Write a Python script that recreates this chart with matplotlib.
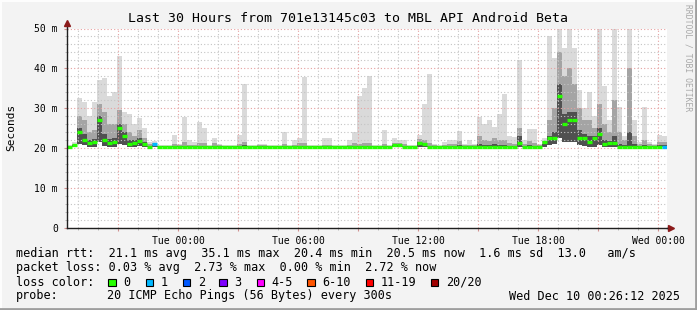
import numpy as np
import pandas as pd
import matplotlib
matplotlib.use("Agg")
import matplotlib.pyplot as plt
import matplotlib.dates as mdates
from matplotlib.patches import Rectangle
from matplotlib.lines import Line2D
from matplotlib.ticker import FuncFormatter

plt.rcParams['font.family'] = ['DejaVu Sans Mono']

W, H = 697, 310

title = "Last 30 Hours from 701e13145c03 to MBL API Android Beta"
start = pd.Timestamp("2025-12-08 18:26:12")   # 30 h before Wed 00:26:12
step = "15min"

# median rtt per 15 min bin (ms)
med = [
    20.4, 20.8, 24.0, 22.0, 21.3, 21.6, 27.0, 22.0, 21.2, 21.6, 25.0, 23.0, 21.0, 21.2, 21.8, 21.0, 20.4, 21.0, 20.4, 20.4,
    20.4, 20.4, 20.4, 20.4, 20.4, 20.4, 20.4, 20.4, 20.4, 20.4, 20.4, 20.4, 20.4, 20.4, 20.4, 20.4, 20.4, 20.4, 20.4, 20.4,
    20.4, 20.4, 20.4, 20.4, 20.4, 20.4, 20.4, 20.4, 20.4, 20.4, 20.4, 20.4, 20.4, 20.4, 20.4, 20.4, 20.4, 20.4, 20.4, 20.4,
    20.4, 20.4, 20.4, 20.4, 20.4, 20.7, 20.7, 20.4, 20.4, 20.4, 21.2, 21.0, 20.4, 20.4, 20.4, 20.4, 20.4, 20.4, 20.4, 20.4,
    20.4, 20.4, 20.4, 20.4, 20.4, 20.4, 20.4, 20.4, 20.4, 20.4, 21.3, 20.4, 20.4, 20.4, 20.4, 21.5, 22.5, 22.5, 33.0, 26.0,
    27.0, 27.0, 22.5, 22.5, 21.5, 22.5, 23.5, 21.0, 21.2, 21.3, 20.4, 20.4, 20.4, 20.4, 20.4, 20.4, 20.4, 20.4, 20.4, 20.4,
]
# lost pings per bin (of 20)
loss = [
    0, 0, 0, 0, 0, 0, 0, 0, 0, 0, 0, 0, 0, 0, 0, 0, 0, 1, 0, 0,
    0, 0, 0, 0, 0, 0, 0, 0, 0, 0, 0, 0, 0, 0, 0, 0, 0, 0, 0, 0,
    0, 0, 0, 0, 0, 0, 0, 0, 0, 0, 0, 0, 0, 0, 0, 0, 0, 0, 0, 0,
    0, 0, 0, 0, 0, 0, 0, 0, 0, 0, 0, 0, 0, 0, 0, 0, 0, 0, 0, 0,
    0, 0, 0, 0, 0, 0, 0, 0, 0, 0, 0, 0, 0, 0, 0, 0, 0, 0, 0, 0,
    0, 0, 0, 0, 0, 0, 0, 0, 0, 0, 0, 0, 0, 0, 0, 0, 0, 0, 0, 1,
]
# smoke: slowest ping, upper and inner spread, fastest ping
rtt_max = [
    20.8, 21.5, 32.5, 31.5, 28.0, 31.5, 37.0, 37.5, 33.0, 34.0, 43.0, 29.0, 28.5, 26.0, 27.5, 25.0, 21.5, 21.8, 20.8, 20.8,
    20.8, 23.2, 21.0, 27.8, 22.0, 21.5, 26.6, 25.0, 20.8, 22.5, 21.0, 20.8, 20.8, 20.8, 23.2, 36.2, 20.8, 20.8, 21.0, 21.0,
    20.8, 20.8, 20.8, 24.1, 20.8, 22.0, 22.5, 37.8, 20.8, 20.8, 20.8, 22.5, 22.5, 20.8, 20.8, 20.8, 22.0, 24.0, 33.0, 35.0,
    38.0, 20.8, 20.8, 24.5, 20.8, 22.5, 22.0, 22.0, 20.8, 20.8, 23.2, 31.2, 38.7, 21.0, 20.8, 21.5, 22.0, 22.0, 24.4, 21.0,
    22.0, 21.0, 27.8, 26.0, 27.0, 25.3, 28.6, 33.7, 23.0, 22.8, 42.0, 22.0, 24.8, 24.8, 21.0, 22.5, 48.0, 42.5, 50.0, 45.0,
    50.0, 45.0, 34.5, 30.0, 34.0, 28.0, 50.0, 35.7, 27.0, 50.0, 30.3, 23.0, 50.0, 27.0, 21.5, 30.3, 21.5, 21.0, 23.2, 23.0,
]
rtt_upper = [
    20.6, 21.0, 28.0, 27.0, 24.0, 24.5, 31.0, 29.0, 26.0, 26.0, 29.5, 26.0, 24.0, 23.0, 24.5, 22.5, 21.0, 21.2, 20.6, 20.6,
    20.6, 21.0, 20.7, 21.5, 20.8, 20.7, 21.2, 21.2, 20.6, 21.3, 20.7, 20.6, 20.6, 20.6, 21.0, 21.5, 20.6, 20.6, 20.7, 20.7,
    20.6, 20.6, 20.6, 21.0, 20.6, 20.8, 21.2, 21.3, 20.6, 20.6, 20.6, 20.8, 20.8, 20.6, 20.6, 20.6, 20.8, 21.2, 21.0, 21.2,
    21.2, 20.6, 20.6, 21.0, 20.6, 21.3, 21.3, 21.0, 20.6, 20.6, 22.3, 22.0, 21.2, 20.7, 20.6, 20.8, 21.0, 21.0, 21.8, 20.7,
    20.8, 20.7, 23.0, 22.0, 21.8, 22.5, 22.0, 22.0, 21.2, 21.0, 25.0, 21.0, 21.8, 21.3, 20.7, 21.8, 27.0, 30.0, 44.0, 38.0,
    40.0, 36.0, 30.0, 27.0, 27.0, 25.0, 31.0, 26.0, 24.0, 32.0, 24.0, 22.0, 40.0, 23.0, 21.0, 22.0, 21.0, 20.8, 21.5, 21.5,
]
rtt_inner = [
    20.5, 20.7, 25.0, 23.5, 22.0, 22.3, 28.0, 23.5, 22.3, 22.5, 26.0, 24.0, 22.0, 22.0, 22.5, 21.5, 20.6, 20.9, 20.5, 20.5,
    20.5, 20.6, 20.5, 20.6, 20.5, 20.5, 20.6, 20.6, 20.5, 20.6, 20.5, 20.5, 20.5, 20.5, 20.6, 20.7, 20.5, 20.5, 20.5, 20.5,
    20.5, 20.5, 20.5, 20.6, 20.5, 20.5, 20.6, 20.6, 20.5, 20.5, 20.5, 20.5, 20.5, 20.5, 20.5, 20.5, 20.5, 20.6, 20.5, 20.6,
    20.6, 20.5, 20.5, 20.6, 20.5, 20.8, 20.8, 20.6, 20.5, 20.5, 21.6, 21.3, 20.6, 20.5, 20.5, 20.5, 20.6, 20.6, 20.8, 20.5,
    20.5, 20.5, 21.0, 20.8, 20.7, 21.0, 20.8, 20.7, 20.6, 20.6, 23.0, 20.6, 20.8, 20.6, 20.5, 21.0, 23.0, 24.0, 36.0, 28.5,
    29.0, 29.0, 24.5, 23.5, 23.0, 23.0, 25.0, 22.0, 21.8, 23.0, 21.0, 20.8, 24.0, 21.0, 20.6, 20.8, 20.6, 20.6, 20.7, 20.7,
]
rtt_min = [
    20.2, 20.2, 21.0, 20.8, 20.3, 20.3, 21.5, 20.6, 20.3, 20.3, 21.0, 20.8, 20.3, 20.3, 20.5, 20.3, 20.2, 20.3, 20.2, 20.2,
    20.2, 20.2, 20.2, 20.2, 20.2, 20.2, 20.2, 20.2, 20.2, 20.2, 20.2, 20.2, 20.2, 20.2, 20.2, 20.2, 20.2, 20.2, 20.2, 20.2,
    20.2, 20.2, 20.2, 20.2, 20.2, 20.2, 20.2, 20.2, 20.2, 20.2, 20.2, 20.2, 20.2, 20.2, 20.2, 20.2, 20.2, 20.2, 20.2, 20.2,
    20.2, 20.2, 20.2, 20.2, 20.2, 20.2, 20.2, 20.2, 20.2, 20.2, 20.2, 20.2, 20.2, 20.2, 20.2, 20.2, 20.2, 20.2, 20.2, 20.2,
    20.2, 20.2, 20.2, 20.2, 20.2, 20.2, 20.2, 20.2, 20.2, 20.2, 20.3, 20.2, 20.2, 20.2, 20.2, 20.3, 20.8, 21.0, 22.5, 21.5,
    21.5, 21.5, 20.8, 20.6, 20.4, 20.4, 20.8, 20.3, 20.3, 20.3, 20.2, 20.2, 20.2, 20.2, 20.2, 20.2, 20.2, 20.2, 20.2, 20.2,
]

loss_labels = ["0", "1", "2", "3", "4-5", "6-10", "11-19", "20/20"]
loss_colors = ["#26ff00", "#00b8ff", "#0059ff", "#7e00ff", "#ff00ff", "#ff5500", "#ff0000", "#a10000"]

row_rtt = "median rtt:  21.1 ms avg  35.1 ms max  20.4 ms min  20.5 ms now  1.6 ms sd  13.0   am/s"
row_loss = "packet loss: 0.03 % avg  2.73 % max  0.00 % min  2.72 % now"
probe = "20 ICMP Echo Pings (56 Bytes) every 300s"
stamp = "Wed Dec 10 00:26:12 2025"


fig = plt.figure(figsize=(W / 100, H / 100), dpi=100)
fig.patch.set_facecolor("#f3f3f3")
ax = fig.add_axes([67 / W, 1 - 228 / H, 600 / W, 199.5 / H])
ax.set_facecolor("white")

edges = pd.date_range(start, periods=len(med) + 1, freq=step)
x = mdates.date2num(edges.to_pydatetime())


def ext(a):
    return np.append(a, a[-1])


ax.fill_between(x, ext(rtt_min), ext(rtt_max), step="post", color="#dadada", lw=0, zorder=1)
ax.fill_between(x, ext(rtt_min), ext(rtt_upper), step="post", color="#a4a4a4", lw=0, zorder=1.1)
ax.fill_between(x, ext(rtt_min), ext(rtt_inner), step="post", color="#505050", lw=0, zorder=1.2)
ax.hlines(med, x[:-1], x[1:], colors=[loss_colors[l] for l in loss], lw=2.4, zorder=4)

ax.set_xlim(x[0], x[-1])
ax.set_ylim(0, 50)

# grid
ax.xaxis.set_major_locator(mdates.HourLocator(byhour=range(0, 24, 3)))
ax.xaxis.set_minor_locator(mdates.HourLocator())
ax.xaxis.set_major_formatter(FuncFormatter(
    lambda v, p: mdates.num2date(v).strftime("%a %H:%M") if mdates.num2date(v).hour % 6 == 0 else ""))
ax.set_yticks([0, 10, 20, 30, 40, 50])
ax.set_yticklabels(["0", "10 m", "20 m", "30 m", "40 m", "50 m"])
ax.set_yticks(np.arange(0, 51, 2), minor=True)
ax.set_axisbelow(False)
ax.grid(which="minor", color="#c4c4c4", linestyle=(0, (1, 2)), lw=0.8, zorder=2)
ax.grid(which="major", color="#e6a0a0", linestyle=(0, (1, 2)), lw=0.8, zorder=2.1)

ax.tick_params(axis="both", which="major", labelsize=7, length=2.5, color="#d09090", pad=3)
ax.tick_params(axis="both", which="minor", length=1.5, color="#b0b0b0")
ax.tick_params(axis="y", pad=4)

for s in ["top", "right"]:
    ax.spines[s].set_visible(False)
for s in ["left", "bottom"]:
    ax.spines[s].set_color("#202020")
    ax.spines[s].set_linewidth(1)
    ax.spines[s].set_zorder(5)

# axis arrows
ax.add_line(Line2D([0, 0], [1, 1.025], transform=ax.transAxes, color="#202020", lw=1, clip_on=False))
ax.add_line(Line2D([1, 1.006], [0, 0], transform=ax.transAxes, color="#202020", lw=1, clip_on=False))
ax.plot([0], [1.03], marker="^", ms=4, color="#8b1a1a", transform=ax.transAxes, clip_on=False)
ax.plot([1.007], [0], marker=">", ms=4, color="#8b1a1a", transform=ax.transAxes, clip_on=False)

# texts
fig.text(348 / W, 1 - 19 / H, title, ha="center", va="center", fontsize=9.5)
fig.text(11 / W, 1 - 127 / H, "Seconds", rotation=90, ha="center", va="center", fontsize=8)
fig.text(688 / W, 1 - 4 / H, "RRDTOOL / TOBI OETIKER", rotation=270, ha="center", va="top",
         fontsize=5.8, color="#a8a8a8")

fs = 8.5


def put(px, py, s, **kw):
    fig.text(px / W, 1 - py / H, s, va="center", fontsize=fs, **kw)


put(16, 254, row_rtt)
put(16, 268, row_loss)
put(16, 282, "loss color:")
box_x = [108.3, 145.7, 182.7, 219.3, 256.7, 307.3, 365.7, 430.7]
for bx, c, lab in zip(box_x, loss_colors, loss_labels):
    fig.patches.append(Rectangle((bx / W, 1 - 286 / H), 7.5 / W, 7.5 / H, transform=fig.transFigure,
                                 facecolor=c, edgecolor="black", lw=0.8))
    put(bx + 15, 282, lab)
put(16, 296, "probe:")
put(107.3, 296, probe)
put(680, 296, stamp, ha="right")

# bevelled frame
fig.add_artist(Line2D([0, 1], [1 - 0.5 / H, 1 - 0.5 / H], transform=fig.transFigure, color="#fdfdfd", lw=1.5))
fig.add_artist(Line2D([0.5 / W, 0.5 / W], [0, 1], transform=fig.transFigure, color="#fdfdfd", lw=1.5))
fig.add_artist(Line2D([0, 1], [1 / H, 1 / H], transform=fig.transFigure, color="#9e9e9e", lw=2))
fig.add_artist(Line2D([1 - 1 / W, 1 - 1 / W], [0, 1], transform=fig.transFigure, color="#9e9e9e", lw=2))

fig.savefig("out.png", dpi=100, facecolor=fig.get_facecolor())
